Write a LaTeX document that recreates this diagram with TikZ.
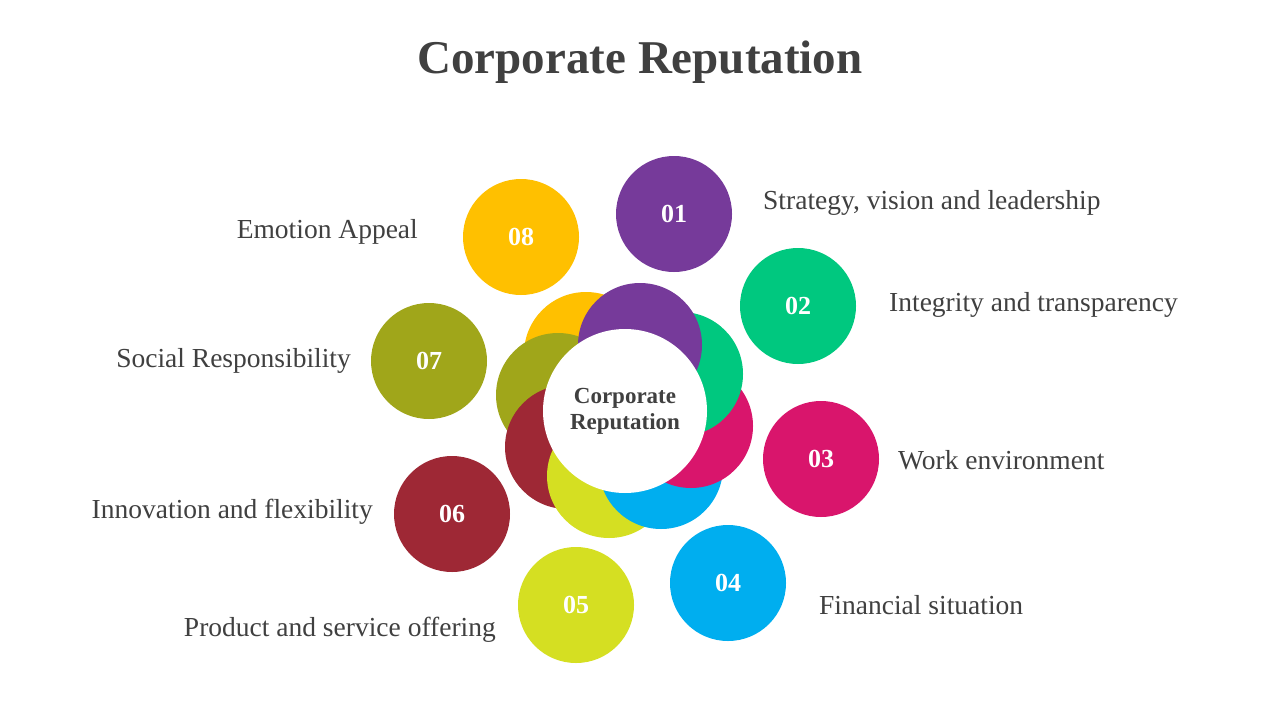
\documentclass[tikz,border=0pt]{standalone}
\usepackage{fontspec}
\setmainfont{Liberation Serif}
\definecolor{txt}{HTML}{404040}
\definecolor{cA}{HTML}{763A9A}
\definecolor{cB}{HTML}{00C87F}
\definecolor{cC}{HTML}{D9156C}
\definecolor{cD}{HTML}{00AEEF}
\definecolor{cE}{HTML}{D5DF22}
\definecolor{cF}{HTML}{9E2835}
\definecolor{cG}{HTML}{A0A61A}
\definecolor{cH}{HTML}{FFC000}
\tikzset{
  outer/.style={circle, minimum size=116pt, inner sep=0pt, text=white, font=\fontsize{26}{26}\selectfont\bfseries},
  inner/.style={circle, minimum size=124pt, inner sep=0pt},
  lbl/.style={text=txt, font=\fontsize{27.5}{30}\selectfont, inner sep=0pt},
}
\begin{document}
\begin{tikzpicture}[x=1pt,y=-1pt]
\useasboundingbox[fill=white] (0,0) rectangle (1280,720);
\node[text=txt, font=\fontsize{47}{50}\selectfont\bfseries] (title) at (640,62) {Corporate Reputation};
% inner ring, drawn bottom to top
\node[inner, fill=cH] (i8) at (586,354) {};
\node[inner, fill=cG] (i7) at (558,395) {};
\node[inner, fill=cF] (i6) at (567,447) {};
\node[inner, fill=cE] (i5) at (609,476) {};
\node[inner, fill=cD] (i4) at (661,467) {};
\node[inner, fill=cC] (i3) at (691,426) {};
\node[inner, fill=cB] (i2) at (681,374) {};
\node[inner, fill=cA] (i1) at (640,345) {};
\node[circle, fill=white, minimum size=164pt, inner sep=0pt, align=center, text=txt,
      font=\fontsize{23}{26}\selectfont\bfseries] (ctr) at (625,411) {Corporate\\Reputation};
% outer circles
\node[outer, fill=cA] (o1) at (674,214) {01};
\node[outer, fill=cB] (o2) at (798,306) {02};
\node[outer, fill=cC] (o3) at (821,459) {03};
\node[outer, fill=cD] (o4) at (728,583) {04};
\node[outer, fill=cE] (o5) at (576,605) {05};
\node[outer, fill=cF] (o6) at (452,514) {06};
\node[outer, fill=cG] (o7) at (429,361) {07};
\node[outer, fill=cH] (o8) at (521,237) {08};
% labels
\node[lbl, anchor=west] (l1) at (763,203) {Strategy, vision and leadership};
\node[lbl, anchor=west] (l2) at (889,305) {Integrity and transparency};
\node[lbl, anchor=west] (l3) at (898,460) {Work environment};
\node[lbl, anchor=west] (l4) at (819,605) {Financial situation};
\node[lbl, anchor=east] (l5) at (496,630) {Product and service offering};
\node[lbl, anchor=east] (l6) at (373,512) {Innovation and flexibility};
\node[lbl, anchor=east] (l7) at (351,361) {Social Responsibility};
\node[lbl, anchor=east] (l8) at (418,232) {Emotion Appeal};
\end{tikzpicture}
\end{document}
